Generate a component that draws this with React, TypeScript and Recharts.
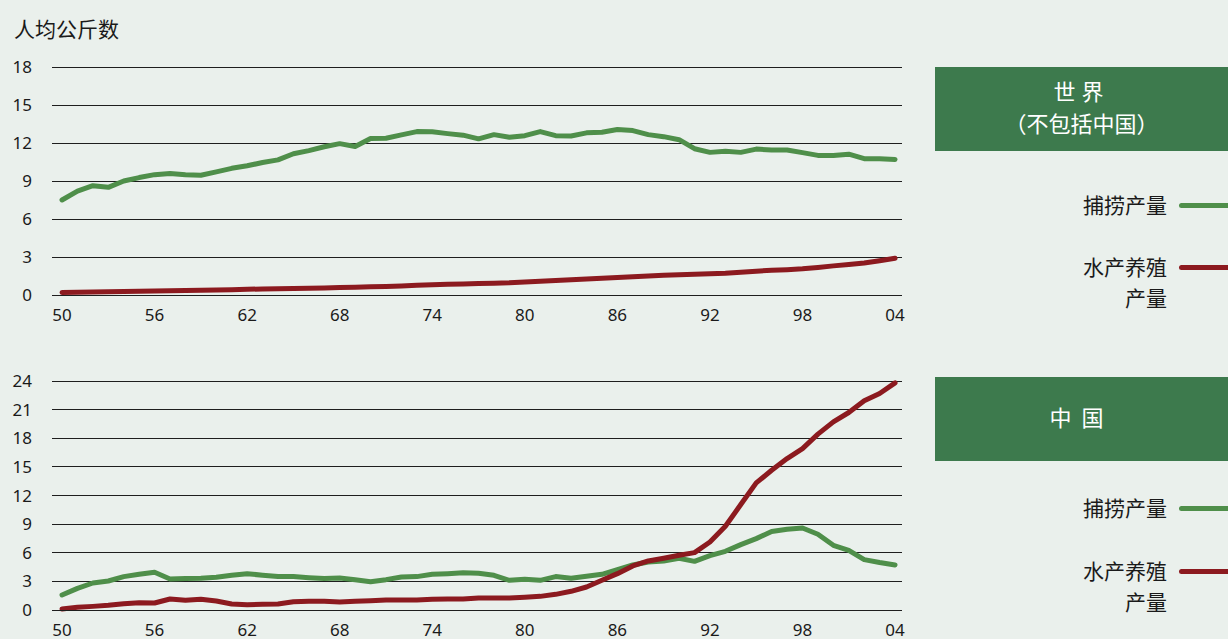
import React from "react"
import { CartesianGrid, Line, LineChart, XAxis, YAxis } from "recharts"

const BG = "#eaf0ec"
const CAPTURE = "#4f8f4a"
const AQUA = "#8c1a1f"
const BOX = "#3d7a4d"
const FONT = '"Noto Sans", "Noto Sans CJK SC", sans-serif'

const firstYear = 1950
const yearTicks = [1950, 1956, 1962, 1968, 1974, 1980, 1986, 1992, 1998, 2004]

// 人均公斤数, 1950–2004
const worldCapture = [
  7.5, 8.2, 8.63, 8.5, 9.0, 9.27, 9.5, 9.6, 9.5, 9.45,
  9.72, 10.0, 10.2, 10.46, 10.67, 11.15, 11.4, 11.7, 11.95, 11.73,
  12.35, 12.38, 12.64, 12.9, 12.88, 12.74, 12.62, 12.33, 12.66, 12.45,
  12.58, 12.9, 12.58, 12.55, 12.8, 12.85, 13.06, 12.98, 12.66, 12.5,
  12.26, 11.55, 11.26, 11.35, 11.26, 11.52, 11.45, 11.45, 11.24, 11.02,
  11.02, 11.12, 10.76, 10.76, 10.7,
]
const worldAqua = [
  0.2, 0.22, 0.24, 0.26, 0.28, 0.3, 0.32, 0.33, 0.35, 0.37,
  0.4, 0.42, 0.45, 0.48, 0.5, 0.52, 0.54, 0.56, 0.6, 0.62,
  0.65, 0.68, 0.72, 0.76, 0.8, 0.84, 0.87, 0.9, 0.93, 0.96,
  1.02, 1.08, 1.14, 1.2, 1.26, 1.32, 1.38, 1.45, 1.5, 1.55,
  1.6, 1.64, 1.68, 1.72, 1.8, 1.88, 1.95, 2.0, 2.07, 2.18,
  2.3, 2.4, 2.52, 2.7, 2.9,
]
const chinaCapture = [
  1.57, 2.27, 2.83, 3.04, 3.5, 3.74, 3.95, 3.25, 3.29, 3.32,
  3.43, 3.64, 3.81, 3.64, 3.5, 3.5, 3.39, 3.29, 3.36, 3.18,
  2.97, 3.18, 3.46, 3.5, 3.74, 3.81, 3.9, 3.85, 3.64, 3.11,
  3.22, 3.11, 3.5, 3.32, 3.53, 3.74, 4.23, 4.72, 5.03, 5.14,
  5.42, 5.1, 5.7, 6.15, 6.85, 7.48, 8.22, 8.46, 8.6, 7.94,
  6.78, 6.26, 5.28, 4.97, 4.72,
]
const chinaAqua = [
  0.1, 0.28, 0.38, 0.49, 0.66, 0.77, 0.73, 1.15, 1.01, 1.12,
  0.94, 0.63, 0.56, 0.59, 0.63, 0.87, 0.91, 0.91, 0.84, 0.91,
  0.98, 1.05, 1.05, 1.05, 1.12, 1.15, 1.15, 1.26, 1.26, 1.26,
  1.33, 1.43, 1.64, 1.96, 2.41, 3.11, 3.81, 4.62, 5.14, 5.42,
  5.73, 6.01, 7.13, 8.78, 11.05, 13.32, 14.65, 15.87, 16.92, 18.43,
  19.72, 20.7, 21.92, 22.69, 23.8,
]

const topTicks = [0, 3, 6, 9, 12, 15, 18]
const bottomTicks = [0, 3, 6, 9, 12, 15, 18, 21, 24]

const toRows = (capture: number[], aqua: number[]) =>
  capture.map((c, i) => ({ year: firstYear + i, capture: c, aqua: aqua[i] }))

const fmtYear = (v: number) => String(v % 100).padStart(2, "0")
const tickStyle = { fill: "#1a1a1a", fontSize: 17, fontFamily: FONT }

function Panel({
  rows,
  yTicks,
  height,
  top,
  bottom,
}: {
  rows: { year: number; capture: number; aqua: number }[]
  yTicks: number[]
  height: number
  top: number
  bottom: number
}) {
  return (
    <LineChart width={920} height={height} data={rows} margin={{ top, right: 18, bottom, left: 0 }}>
      <CartesianGrid vertical={false} stroke="#1e1e1e" strokeWidth={1} shapeRendering="crispEdges" />
      <XAxis
        dataKey="year"
        type="number"
        domain={[1949.35, 2004.45]}
        ticks={yearTicks}
        tickFormatter={fmtYear}
        tick={tickStyle}
        tickLine={false}
        axisLine={{ stroke: "#1e1e1e", shapeRendering: "crispEdges" }}
        tickMargin={8}
        height={30}
        interval={0}
      />
      <YAxis
        domain={[0, yTicks[yTicks.length - 1]]}
        ticks={yTicks}
        tick={tickStyle}
        tickLine={false}
        axisLine={false}
        tickMargin={14}
        width={52}
        interval={0}
      />
      <Line dataKey="capture" stroke={CAPTURE} strokeWidth={5} dot={false} strokeLinecap="round" strokeLinejoin="round" isAnimationActive={false} />
      <Line dataKey="aqua" stroke={AQUA} strokeWidth={5} dot={false} strokeLinecap="round" strokeLinejoin="round" isAnimationActive={false} />
    </LineChart>
  )
}

function LegendBlock({ top, title, itemsTop }: { top: number; title: React.ReactNode; itemsTop: number[] }) {
  const label = { position: "absolute" as const, right: 61, fontSize: 21, color: "#1a1a1a", lineHeight: "31px", textAlign: "right" as const }
  return (
    <>
      <div
        style={{
          position: "absolute",
          left: 935,
          top,
          width: 293,
          height: 84,
          boxSizing: "border-box",
          paddingBottom: 4,
          background: BOX,
          color: "#fff",
          display: "flex",
          flexDirection: "column",
          alignItems: "center",
          justifyContent: "center",
          fontSize: 22,
          lineHeight: "32px",
        }}
      >
        {title}
      </div>
      <div style={{ ...label, top: itemsTop[0] - 15.5 }}>捕捞产量</div>
      <div style={{ position: "absolute", left: 1179, top: itemsTop[0] - 2.5, width: 60, height: 5, borderRadius: 3, background: CAPTURE }} />
      <div style={{ ...label, top: itemsTop[1] - 15.5 }}>
        水产养殖
        <br />
        产量
      </div>
      <div style={{ position: "absolute", left: 1179, top: itemsTop[1] - 2.5, width: 60, height: 5, borderRadius: 3, background: AQUA }} />
    </>
  )
}

export default function App() {
  return (
    <div style={{ position: "fixed", left: 0, top: 0, width: 1228, height: 639, background: BG, fontFamily: FONT, overflow: "hidden" }}>
      <div style={{ position: "absolute", left: 14, top: 13, fontSize: 21, color: "#1a1a1a" }}>人均公斤数</div>
      <div style={{ position: "absolute", left: 0, top: 0 }}>
        <Panel rows={toRows(worldCapture, worldAqua)} yTicks={topTicks} height={340} top={67} bottom={15} />
      </div>
      <div style={{ position: "absolute", left: 0, top: 345 }}>
        <Panel rows={toRows(chinaCapture, chinaAqua)} yTicks={bottomTicks} height={305} top={36} bottom={10} />
      </div>
      <LegendBlock
        top={67}
        title={
          <>
            <span style={{ letterSpacing: 6 }}>世界</span>
            <span>（不包括中国）</span>
          </>
        }
        itemsTop={[205, 267]}
      />
      <LegendBlock top={377} title={<span style={{ letterSpacing: 10 }}>中国</span>} itemsTop={[508, 571]} />
    </div>
  )
}
